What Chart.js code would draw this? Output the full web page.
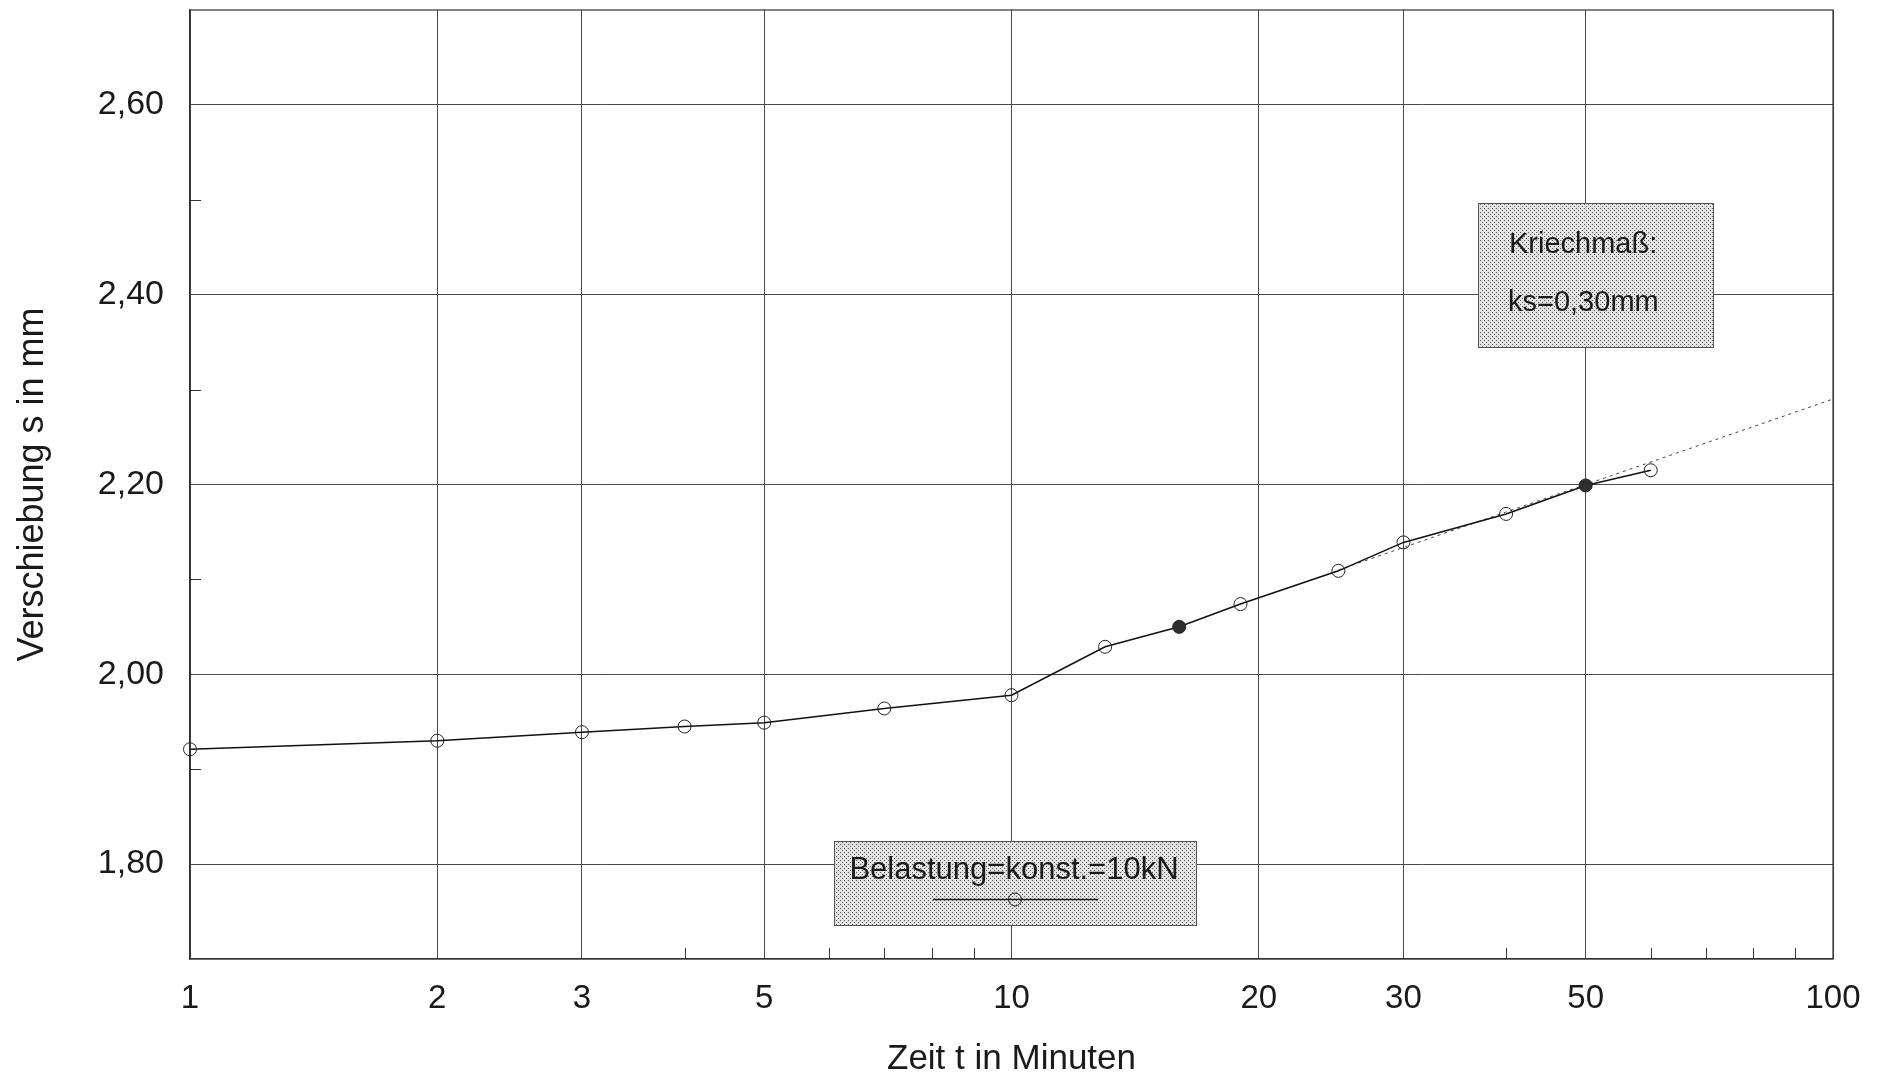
<!DOCTYPE html>
<html>
<head>
<meta charset="utf-8">
<script src="https://cdn.jsdelivr.net/npm/chart.js@4"></script>
<style>
  html, body { margin: 0; padding: 0; background: #fff; }
  #wrap { width: 1887px; height: 1080px; }
</style>
</head>
<body>
<div id="wrap"><canvas id="creepChart"></canvas></div>
<script>
// measured points (time in min, displacement in mm)
const times = [1, 2, 3, 4, 5, 7, 10, 13, 16, 19, 25, 30, 40, 50, 60];
const displacement = [1.921, 1.930, 1.939, 1.945, 1.949, 1.964, 1.978, 2.029, 2.050, 2.074, 2.109, 2.139, 2.169, 2.199, 2.215];
const filledTimes = [16, 50];

// dotted creep line
const trendTimes = [25, 100];
const trendValues = [2.11, 2.29];

const xTickLabels = [1, 2, 3, 5, 10, 20, 30, 50, 100];
const xMinorTicks = [4, 6, 7, 8, 9, 40, 60, 70, 80, 90];
const yTickLabels = [1.8, 2.0, 2.2, 2.4, 2.6];
const yMinorTicks = [1.9, 2.1, 2.3, 2.5];

const boxText = ['Kriechmaß:', 'ks=0,30mm'];
const legendText = 'Belastung=konst.=10kN';

const FONT = '"Liberation Sans", Arial, sans-serif';
const INK = '#1a1a1a';
const GRID = '#4a4a4a';

// dotted grey fill like the scanned raster
function makePattern(ctx) {
    const c = document.createElement('canvas');
    c.width = 4; c.height = 4;
    const p = c.getContext('2d');
    p.fillStyle = '#e2e2e2';
    p.fillRect(0, 0, 4, 4);
    p.fillStyle = '#5a5a5a';
    p.fillRect(0, 0, 1, 1);
    p.fillRect(2, 2, 1, 1);
    return ctx.createPattern(c, 'repeat');
}

const decorPlugin = {
    id: 'decor',
    afterDatasetsDraw(chart) {
        const ctx = chart.ctx;
        const area = chart.chartArea;
        const xs = chart.scales.x, ys = chart.scales.y;
        ctx.save();

        // frame
        ctx.strokeStyle = '#333';
        ctx.lineWidth = 1.2;
        ctx.strokeRect(area.left, area.top, area.right - area.left, area.bottom - area.top);

        // inward minor ticks
        ctx.strokeStyle = '#333';
        ctx.lineWidth = 1;
        ctx.beginPath();
        xMinorTicks.forEach(v => {
            const px = Math.round(xs.getPixelForValue(v)) + 0.5;
            ctx.moveTo(px, area.bottom);
            ctx.lineTo(px, area.bottom - 11);
        });
        yMinorTicks.forEach(v => {
            const py = Math.round(ys.getPixelForValue(v)) + 0.5;
            ctx.moveTo(area.left, py);
            ctx.lineTo(area.left + 11, py);
        });
        ctx.stroke();

        const pat = makePattern(ctx);

        // Kriechmass box
        ctx.fillStyle = pat;
        ctx.fillRect(1478, 203, 236, 145);
        ctx.strokeStyle = '#555';
        ctx.lineWidth = 1;
        ctx.strokeRect(1478.5, 203.5, 235, 144);
        ctx.fillStyle = INK;
        ctx.font = '29px ' + FONT;
        ctx.textAlign = 'left';
        ctx.textBaseline = 'alphabetic';
        ctx.fillText(boxText[0], 1509, 253);
        ctx.fillText(boxText[1], 1508, 311);

        // legend box
        ctx.fillStyle = pat;
        ctx.fillRect(834, 841, 363, 85);
        ctx.strokeStyle = '#555';
        ctx.strokeRect(834.5, 841.5, 362, 84);
        ctx.fillStyle = INK;
        ctx.font = '31px ' + FONT;
        ctx.textAlign = 'center';
        ctx.fillText(legendText, 1014, 879);
        ctx.strokeStyle = '#222';
        ctx.lineWidth = 1.4;
        ctx.beginPath();
        ctx.moveTo(933, 899.5);
        ctx.lineTo(1098, 899.5);
        ctx.stroke();
        ctx.lineWidth = 1;
        ctx.beginPath();
        ctx.arc(1015, 899.5, 6.5, 0, Math.PI * 2);
        ctx.stroke();

        ctx.restore();
    }
};

const ctx = document.getElementById('creepChart').getContext('2d');
new Chart(ctx, {
    type: 'line',
    data: {
        datasets: [
            {
                label: 'Verschiebung',
                data: times.map((t, i) => ({ x: t, y: displacement[i] })),
                borderColor: '#111',
                borderWidth: 1.6,
                tension: 0,
                clip: false,
                pointRadius: 6.5,
                pointBorderWidth: 1,
                pointBorderColor: '#222',
                pointBackgroundColor: times.map(t => filledTimes.includes(t) ? '#2e2e2e' : 'rgba(0,0,0,0)'),
                order: 1
            },
            {
                label: 'Kriechmaß',
                data: trendTimes.map((t, i) => ({ x: t, y: trendValues[i] })),
                borderColor: '#444',
                borderWidth: 1,
                borderDash: [3, 4],
                pointRadius: 0,
                order: 2
            }
        ]
    },
    options: {
        responsive: true,
        maintainAspectRatio: false,
        animation: false,
        layout: { padding: { top: 10, right: 54, bottom: 0, left: 0 } },
        plugins: {
            legend: { display: false },
            tooltip: { enabled: false }
        },
        scales: {
            x: {
                type: 'logarithmic',
                min: 1,
                max: 100,
                afterBuildTicks: s => { s.ticks = xTickLabels.map(v => ({ value: v })); },
                afterFit: s => { s.height = 121; s.paddingLeft = 0; s.paddingRight = 0; },
                ticks: {
                    autoSkip: false,
                    maxRotation: 0,
                    padding: 20,
                    color: INK,
                    font: { family: FONT, size: 33 },
                    callback: v => String(v)
                },
                grid: { color: GRID, lineWidth: 1, drawTicks: false },
                border: { display: true, color: '#333', width: 1.2 },
                title: {
                    display: true,
                    text: 'Zeit t in Minuten',
                    color: INK,
                    font: { family: FONT, size: 35 },
                    padding: { top: 0, bottom: 0 }
                }
            },
            y: {
                min: 1.7,
                max: 2.7,
                afterBuildTicks: s => { s.ticks = yTickLabels.map(v => ({ value: v })); },
                afterFit: s => { s.width = 190; s.paddingTop = 0; s.paddingBottom = 0; },
                ticks: {
                    padding: 26,
                    color: INK,
                    font: { family: FONT, size: 34 },
                    callback: v => v.toFixed(2).replace('.', ',')
                },
                grid: { color: GRID, lineWidth: 1, drawTicks: false },
                border: { display: true, color: '#333', width: 1.2 },
                title: {
                    display: true,
                    text: 'Verschiebung s in mm',
                    color: INK,
                    font: { family: FONT, size: 36 },
                    padding: { top: 11, bottom: 0 }
                }
            }
        }
    },
    plugins: [decorPlugin]
});
</script>
</body>
</html>
